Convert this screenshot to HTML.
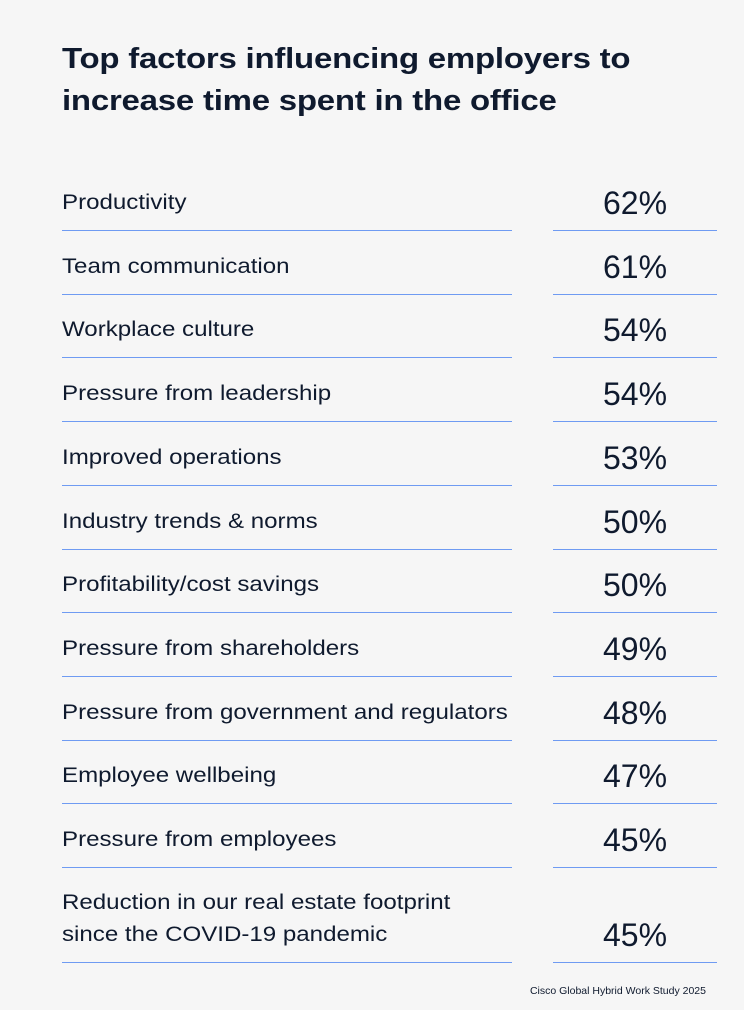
<!DOCTYPE html>
<html><head><meta charset="utf-8"><style>
body{margin:0;width:744px;height:1010px;background:#f6f6f6;font-family:"Liberation Sans",sans-serif;color:#0f1a2e;position:relative;overflow:hidden}
.t{position:absolute;left:62px;top:38px;font-size:29px;font-weight:bold;line-height:42px;letter-spacing:-0.2px;transform:scaleX(1.137);transform-origin:left top;white-space:nowrap}
.lab{position:absolute;left:62px;font-size:21px;line-height:32px;white-space:nowrap;transform:scaleX(1.147);transform-origin:left top}
.val{position:absolute;left:553px;width:164px;text-align:center;font-size:32px;line-height:36px}
.ln{position:absolute;height:1px;background:#6f9bf2}
.src{position:absolute;right:38px;top:985px;font-size:10.5px}
</style></head><body>
<div class="t">Top factors influencing employers to<br>increase time spent in the office</div>
<div id="rows"></div>
<div class="src">Cisco Global Hybrid Work Study 2025</div>
<script>
const categories=["Productivity","Team communication","Workplace culture","Pressure from leadership","Improved operations","Industry trends & norms","Profitability/cost savings","Pressure from shareholders","Pressure from government and regulators","Employee wellbeing","Pressure from employees","Reduction in our real estate footprint<br>since the COVID-19 pandemic"];
const values=[62,61,54,54,53,50,50,49,48,47,45,45];
const root=document.getElementById('rows');
let lineY=230;
categories.forEach((c,i)=>{
  const two=c.includes('<br>');
  if(i===categories.length-1) lineY=962;
  const y=Math.round(lineY);
  const center=y-27;
  const l=document.createElement('div');
  l.className='lab';
  
  
  l.innerHTML=c;
  l.style.top=(two?center-48:center-16)+'px';
  root.appendChild(l);
  const v=document.createElement('div');
  v.className='val';
  
  
  v.textContent=values[i]+'%';
  v.style.top=(center-18)+'px';
  root.appendChild(v);
  [[62,450],[553,164]].forEach(([x,w])=>{
    const d=document.createElement('div');
    d.className='ln';
    
    
    d.style.left=x+'px';d.style.width=w+'px';d.style.top=y+'px';
    root.appendChild(d);
  });
  lineY+=63.7;
});
</script>
</body></html>
